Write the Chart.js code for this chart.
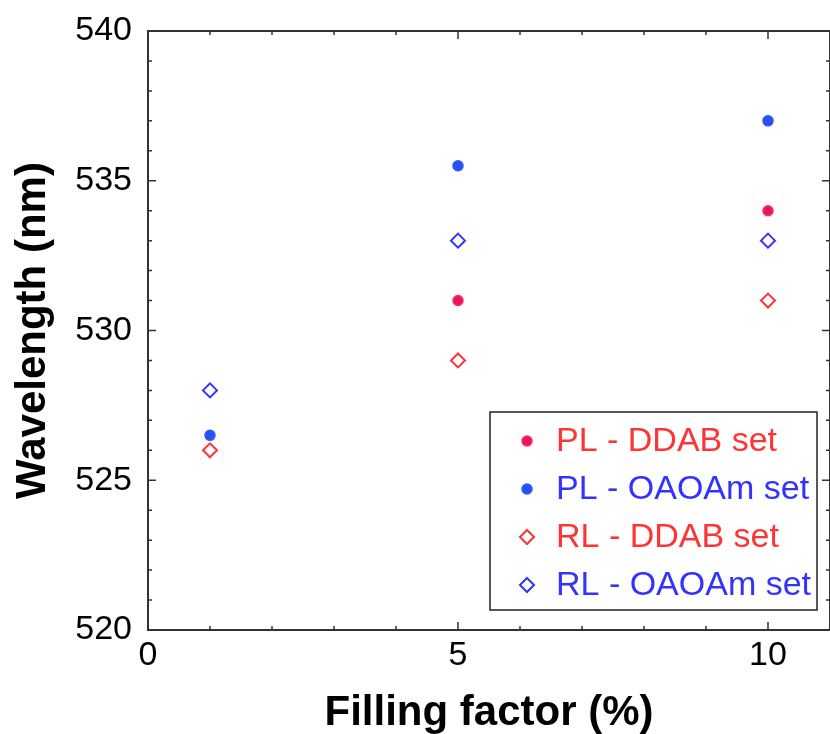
<!DOCTYPE html>
<html>
<head>
<meta charset="utf-8">
<script src="https://cdn.jsdelivr.net/npm/chart.js@4/dist/chart.umd.min.js"></script>
<style>
  html, body { margin: 0; padding: 0; background: #fff; overflow: hidden; }
  canvas { display: block; }
</style>
</head>
<body>
<canvas id="wavelengthChart" width="830" height="734"></canvas>
<script>
// filling factor (%) and wavelength (nm)
const plDdabX = [5, 10];
const plDdabY = [531, 534];
const plOaoamX = [1, 5, 10];
const plOaoamY = [526.5, 535.5, 537];
const rlDdabX = [1, 5, 10];
const rlDdabY = [526, 529, 531];
const rlOaoamX = [1, 5, 10];
const rlOaoamY = [528, 533, 533];

const seriesLabels = ['PL - DDAB set', 'PL - OAOAm set', 'RL - DDAB set', 'RL - OAOAm set'];
const xTicks = [0, 5, 10];
const yTicks = [520, 525, 530, 535, 540];

const toPoints = (xs, ys) => xs.map((x, i) => ({ x: x, y: ys[i] }));

const FONT = "'Liberation Sans', Arial, sans-serif";
const RED = '#ff3333';
const BLUE = '#3333ff';

// draws the box frame with inward ticks on all four sides
const frameTicks = {
    id: 'frameTicks',
    afterDraw(chart) {
        const { ctx, chartArea: a, scales } = chart;
        const xs = scales.x, ys = scales.y;
        ctx.save();
        ctx.strokeStyle = '#333';
        ctx.lineWidth = 2;
        ctx.strokeRect(a.left, a.top, a.right - a.left, a.bottom - a.top);
        ctx.lineWidth = 1.5;
        ctx.beginPath();
        for (let v = 0; v <= 11; v++) {
            const px = xs.getPixelForValue(v);
            if (px > a.right) break;
            const len = v % 5 === 0 ? 8 : 4;
            ctx.moveTo(px, a.bottom); ctx.lineTo(px, a.bottom - len);
            ctx.moveTo(px, a.top); ctx.lineTo(px, a.top + len);
        }
        for (let v = 520; v <= 540; v++) {
            const py = ys.getPixelForValue(v);
            const len = v % 5 === 0 ? 8 : 4;
            ctx.moveTo(a.left, py); ctx.lineTo(a.left + len, py);
            ctx.moveTo(a.right, py); ctx.lineTo(a.right - len, py);
        }
        ctx.stroke();
        ctx.restore();
    }
};

// boxed legend in the lower right of the plot
const boxLegend = {
    id: 'boxLegend',
    afterDraw(chart) {
        const { ctx } = chart;
        const left = 490, top = 412, right = 817, bottom = 610;
        ctx.save();
        ctx.fillStyle = '#fff';
        ctx.fillRect(left, top, right - left, bottom - top);
        ctx.strokeStyle = '#222';
        ctx.lineWidth = 1.5;
        ctx.strokeRect(left, top, right - left, bottom - top);
        chart.data.datasets.forEach((ds, i) => {
            const cy = 441 + i * 48;
            const cx = 527;
            ctx.lineWidth = ds.pointBorderWidth;
            ctx.strokeStyle = ds.pointBorderColor;
            ctx.fillStyle = ds.pointBackgroundColor;
            ctx.beginPath();
            if (ds.pointStyle === 'circle') {
                ctx.arc(cx, cy, 5, 0, Math.PI * 2);
                ctx.fill();
                ctx.stroke();
            } else {
                const r = 7;
                ctx.moveTo(cx, cy - r); ctx.lineTo(cx + r, cy);
                ctx.lineTo(cx, cy + r); ctx.lineTo(cx - r, cy);
                ctx.closePath();
                ctx.stroke();
            }
            ctx.fillStyle = ds.legendColor;
            ctx.font = '34px ' + FONT;
            ctx.textAlign = 'left';
            ctx.textBaseline = 'middle';
            ctx.fillText(ds.label, 556, cy + 1);
        });
        ctx.restore();
    }
};

new Chart(document.getElementById('wavelengthChart').getContext('2d'), {
    type: 'scatter',
    data: {
        datasets: [
            {
                label: seriesLabels[0], data: toPoints(plDdabX, plDdabY),
                pointStyle: 'circle', pointRadius: 5, pointBorderWidth: 1.5,
                pointBackgroundColor: '#e8126a', pointBorderColor: '#ff2f50', legendColor: RED
            },
            {
                label: seriesLabels[1], data: toPoints(plOaoamX, plOaoamY),
                pointStyle: 'circle', pointRadius: 5, pointBorderWidth: 1.5,
                pointBackgroundColor: '#2255f0', pointBorderColor: '#3355ff', legendColor: BLUE
            },
            {
                label: seriesLabels[2], data: toPoints(rlDdabX, rlDdabY),
                pointStyle: 'rectRot', pointRadius: 7, pointBorderWidth: 2,
                pointBackgroundColor: 'rgba(0,0,0,0)', pointBorderColor: RED, legendColor: RED
            },
            {
                label: seriesLabels[3], data: toPoints(rlOaoamX, rlOaoamY),
                pointStyle: 'rectRot', pointRadius: 7, pointBorderWidth: 2,
                pointBackgroundColor: 'rgba(0,0,0,0)', pointBorderColor: BLUE, legendColor: BLUE
            }
        ]
    },
    options: {
        responsive: false,
        animation: false,
        layout: { autoPadding: false, padding: { top: 31, right: -3, bottom: 0, left: 0 } },
        plugins: {
            legend: { display: false },
            tooltip: { enabled: false }
        },
        scales: {
            x: {
                type: 'linear', min: 0, max: 11,
                grid: { display: false, drawTicks: false },
                border: { display: false },
                afterBuildTicks: s => { s.ticks = xTicks.map(v => ({ value: v })); },
                afterFit: s => { s.height = 104; s.paddingLeft = 0; s.paddingRight = 0; },
                ticks: { color: '#000', padding: 5, font: { family: FONT, size: 34 } },
                title: {
                    display: true, text: 'Filling factor (%)', color: '#000',
                    padding: { top: 0, bottom: 0 },
                    font: { family: FONT, size: 42, weight: 'bold', lineHeight: 1 }
                }
            },
            y: {
                type: 'linear', min: 520, max: 540,
                grid: { display: false, drawTicks: false },
                border: { display: false },
                afterBuildTicks: s => { s.ticks = yTicks.map(v => ({ value: v })); },
                afterFit: s => { s.width = 148; s.paddingTop = 0; s.paddingBottom = 0; },
                ticks: { color: '#000', padding: 16, font: { family: FONT, size: 34 } },
                title: {
                    display: true, text: 'Wavelength (nm)', color: '#000',
                    padding: { top: 12, bottom: 0 },
                    font: { family: FONT, size: 42, weight: 'bold', lineHeight: 1 }
                }
            }
        }
    },
    plugins: [frameTicks, boxLegend]
});
</script>
</body>
</html>
